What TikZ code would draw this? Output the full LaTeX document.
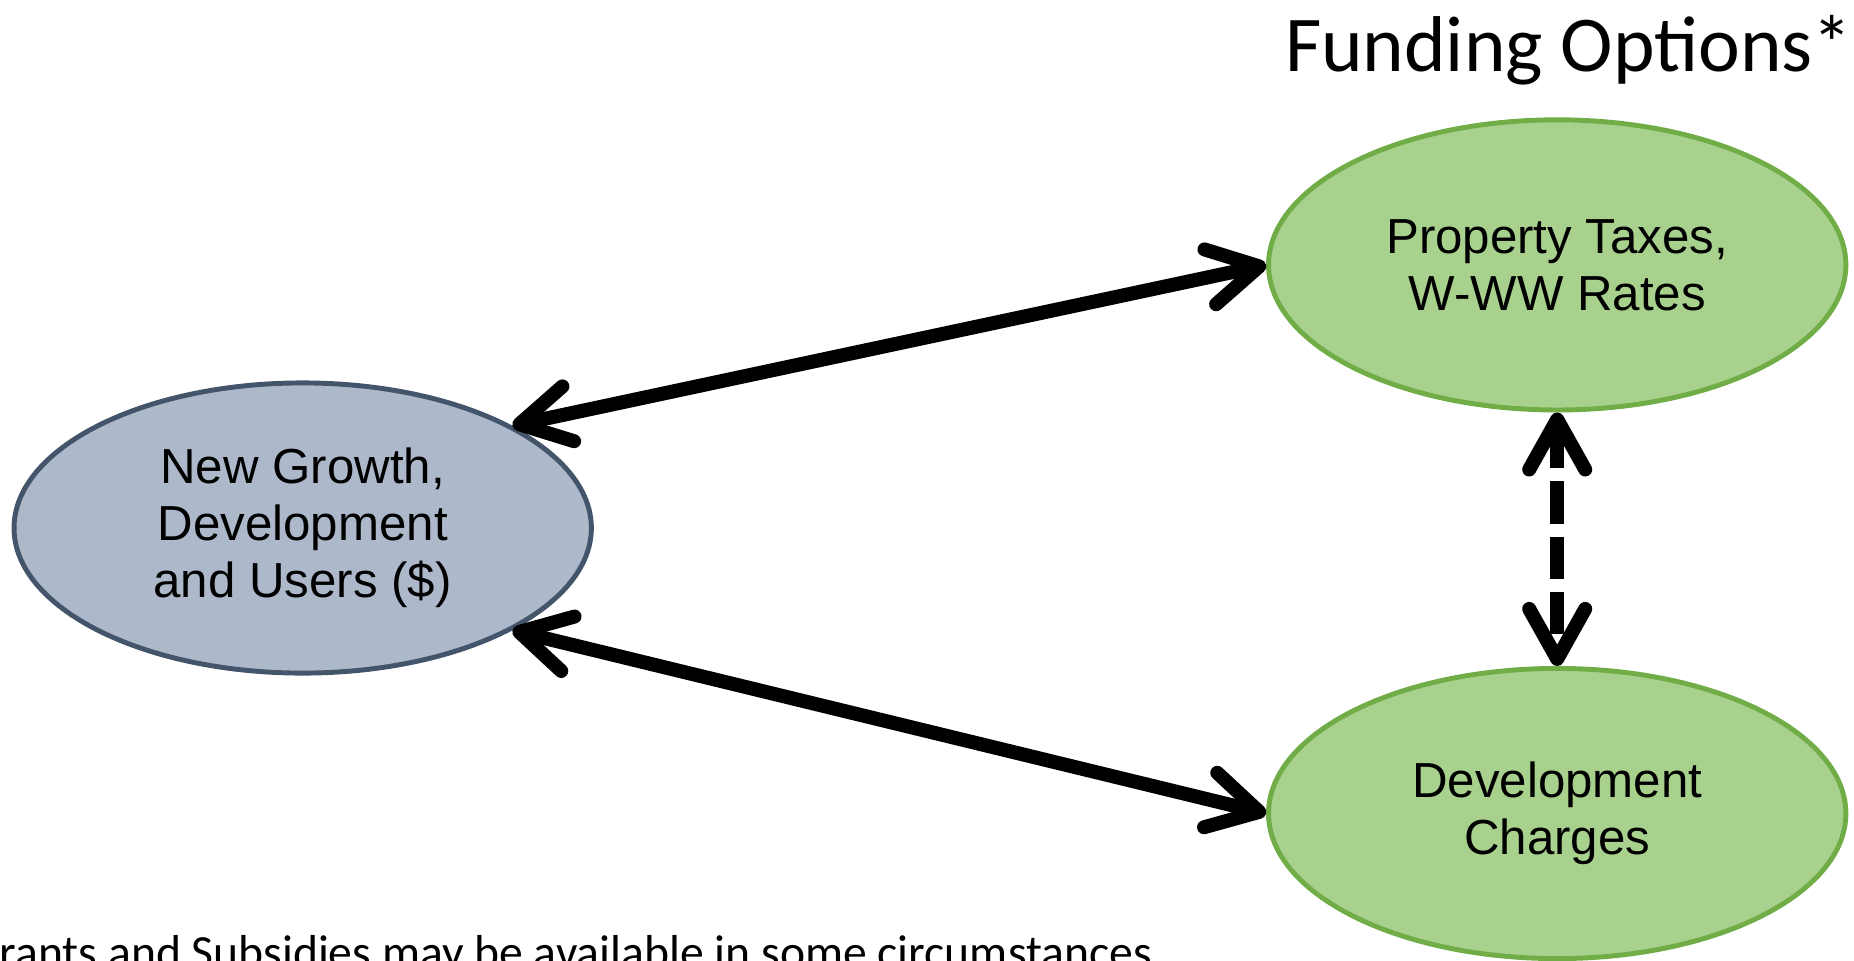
\documentclass[tikz,border=0pt]{standalone}
\usepackage{fontspec}
\setmainfont{Liberation Sans}
\newfontfamily\calib{Carlito}
\usetikzlibrary{shapes.geometric,arrows.meta}
\definecolor{grayfill}{HTML}{ADB9CA}
\definecolor{grayline}{HTML}{44546A}
\definecolor{greenfill}{HTML}{A9D18E}
\definecolor{greenline}{HTML}{70AD47}
\tikzset{
  oval/.style={ellipse, minimum width=5.77cm, minimum height=2.90cm, line width=1.4pt, inner sep=0pt, align=center, font=\fontsize{14}{16.2}\selectfont},
  grayoval/.style={oval, draw=grayline, fill=grayfill},
  greenoval/.style={oval, draw=greenline, fill=greenfill},
  barb/.tip={Straight Barb[round,length=0.50cm,width=0.56cm]},
  link/.style={line width=0.14cm, barb-barb},
  dashlink/.style={link, dash pattern=on 0.42cm off 0.13cm}
}
\begin{document}
\begin{tikzpicture}[x=0.01cm, y=-0.01cm]
\useasboundingbox (0,0) rectangle (1854,960);
\node[grayoval] (growth) at (302.7,528) {New Growth,\\Development\\and Users (\$)};
\node[greenoval] (tax) at (1557.2,264.9) {Property Taxes,\\W-WW Rates};
\node[greenoval] (dc) at (1557.2,813.5) {Development\\Charges};
\node[anchor=base east, inner sep=0pt, font=\calib\fontsize{22.5}{26}\selectfont] (title) at (1853,71) {Funding Options*};
\node[anchor=base west, inner sep=0pt, font=\calib\fontsize{13.55}{16}\selectfont] (note) at (-31,968) {Grants and Subsidies may be available in some circumstances};
\draw[link] (growth.26) -- (tax.west);
\draw[link] (growth.-26) -- (dc.west);
\draw[dashlink] (tax.south) -- (dc.north);
\end{tikzpicture}
\end{document}
